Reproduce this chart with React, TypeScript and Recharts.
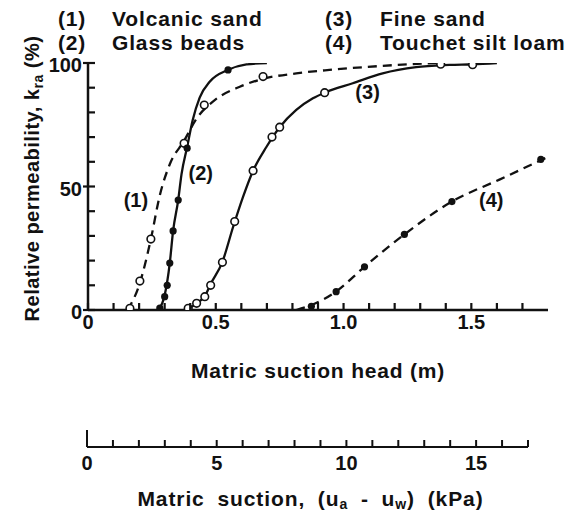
import {
  ComposedChart,
  Line,
  Scatter,
  XAxis,
  YAxis,
  ReferenceDot,
} from "recharts";

const FONT = "'Liberation Sans', Arial, Helvetica, sans-serif";
const INK = "#111";

// legend
const seriesTags = ["(1)", "(2)", "(3)", "(4)"];
const seriesNames = ["Volcanic sand", "Glass beads", "Fine sand", "Touchet silt loam"];

// measured points: [suction head (m), k_ra (%)]
const volcanicPts = [
  [0.164, 0.7], [0.203, 11.7], [0.246, 28.7], [0.376, 67.5], [0.455, 83], [0.685, 94.5], [1.38, 99.5],
];
const glassPts = [
  [0.281, 0.8], [0.3, 5.4], [0.31, 10], [0.32, 19], [0.333, 32], [0.353, 44.5], [0.388, 65.5], [0.548, 97.2],
];
const fineSandPts = [
  [0.392, 0.7], [0.425, 2.7], [0.457, 5.4], [0.48, 10], [0.526, 19.3], [0.574, 35.8], [0.646, 56.4],
  [0.72, 70], [0.75, 74], [0.926, 88], [1.505, 99.3],
];
const touchetPts = [
  [0.874, 1.5], [0.971, 7.4], [1.082, 17.5], [1.238, 30.6], [1.424, 43.9], [1.772, 61],
];

// fitted curves
const volcanicCurve = [
  [0.155, 0], [0.2, 10], [0.246, 28.7], [0.28, 46], [0.32, 59], [0.376, 68.5], [0.425, 77.5],
  [0.49, 84.5], [0.594, 90.4], [0.685, 93.6], [0.815, 95.8], [0.945, 97.2], [1.09, 98.4], [1.26, 99.5], [1.38, 100],
];
const glassCurve = [
  [0.275, 0], [0.3, 6], [0.32, 19], [0.333, 32], [0.353, 44.5], [0.366, 55], [0.388, 66], [0.41, 77],
  [0.437, 86], [0.477, 92.5], [0.548, 97.2], [0.62, 99.4], [0.7, 100],
];
const fineSandCurve = [
  [0.385, 0], [0.425, 2.7], [0.457, 5.6], [0.48, 10.5], [0.526, 19.5], [0.568, 33.7], [0.607, 45.9],
  [0.646, 56.4], [0.698, 66], [0.75, 74], [0.815, 81], [0.88, 85.7], [0.926, 88], [1.036, 91.8],
  [1.153, 95.8], [1.284, 98.3], [1.414, 99.2], [1.505, 99.5], [1.6, 100],
];
const touchetCurve = [
  [0.815, 0], [0.874, 2], [0.971, 7.5], [1.082, 17.5], [1.238, 30.6], [1.424, 43.9], [1.61, 52.8], [1.8, 62],
];

// where the (n) tags sit next to each curve
const curveTagPos = [
  [0.1875, 44], [0.441, 54.7], [1.094, 87.4], [1.578, 43.7],
];

const headTicks = [0, 0.1, 0.2, 0.3, 0.4, 0.5, 0.6, 0.7, 0.8, 0.9, 1.0, 1.1, 1.2, 1.3, 1.4, 1.5, 1.6, 1.7];
const permTicks = [0, 10, 20, 30, 40, 50, 60, 70, 80, 90, 100];
const kpaTicks = [0, 1, 2, 3, 4, 5, 6, 7, 8, 9, 10, 11, 12, 13, 14, 15, 16, 17];

const toXY = (arr: number[][]) => arr.map(([x, y]) => ({ x, y }));

const OpenDot = (p: any) => (
  <circle cx={p.cx} cy={p.cy} r={3.8} fill="#fff" stroke={INK} strokeWidth={1.6} />
);
const FullDot = (p: any) => <circle cx={p.cx} cy={p.cy} r={3.6} fill={INK} />;

const TICK_IN = 7;

// tick marks point into the plot, as in the printed figure
function HeadTick({ x, y, payload }: any) {
  const v = payload.value;
  const major = Math.abs(v * 2 - Math.round(v * 2)) < 1e-6;
  return (
    <g>
      <line x1={x} y1={y} x2={x} y2={y - TICK_IN} stroke={INK} strokeWidth={2.2} />
      {major && (
        <text x={x} y={y + 14} textAnchor="middle" dominantBaseline="middle" fontFamily={FONT} fontWeight={700} fontSize={20} fill={INK}>
          {v === 0 ? "0" : v.toFixed(1)}
        </text>
      )}
    </g>
  );
}

function PermTick({ x, y, payload }: any) {
  const v = payload.value;
  const major = v % 50 === 0;
  return (
    <g>
      <line x1={major ? x - 5 : x} y1={y} x2={x + TICK_IN} y2={y} stroke={INK} strokeWidth={2.2} />
      {major && (
        <text x={x - 6} y={y + 4} textAnchor="end" dominantBaseline="middle" fontFamily={FONT} fontWeight={700} fontSize={20} fill={INK}>
          {v}
        </text>
      )}
    </g>
  );
}

function KpaTick({ x, y, payload }: any) {
  const v = payload.value;
  return (
    <g>
      <line x1={x} y1={y} x2={x} y2={y - (v === 0 ? 17 : 7)} stroke={INK} strokeWidth={2} />
      {v % 5 === 0 && (
        <text x={x} y={y + 18} textAnchor="middle" dominantBaseline="middle" fontFamily={FONT} fontWeight={700} fontSize={20} fill={INK}>
          {v}
        </text>
      )}
    </g>
  );
}

const headTitle = ({ viewBox }: any) => (
  <text x={viewBox.x + viewBox.width / 2} y={viewBox.y + 62} textAnchor="middle" dominantBaseline="middle" fontFamily={FONT} fontWeight={700} fontSize={21} letterSpacing={0.8} fill={INK}>
    Matric suction head (m)
  </text>
);

const permTitle = ({ viewBox }: any) => {
  const cx = viewBox.x + 6;
  const cy = viewBox.y + viewBox.height / 2 - 8;
  return (
    <text x={cx} y={cy} transform={`rotate(-90, ${cx}, ${cy})`} textAnchor="middle" dominantBaseline="middle" fontFamily={FONT} fontWeight={700} fontSize={20} letterSpacing={0.5} fill={INK}>
      Relative permeability,  k<tspan dy={5} fontSize={14}>ra</tspan><tspan dy={-5}> (%)</tspan>
    </text>
  );
};

const kpaTitle = ({ viewBox }: any) => (
  <text x={viewBox.x + viewBox.width / 2 + 3} y={viewBox.y + 53} textAnchor="middle" dominantBaseline="middle" fontFamily={FONT} fontWeight={700} fontSize={21} letterSpacing={0.9} wordSpacing={6} fill={INK}>
    Matric suction, (u<tspan dy={5} fontSize={14}>a</tspan><tspan dy={-5}> - u</tspan><tspan dy={5} fontSize={14}>w</tspan><tspan dy={-5}>) (kPa)</tspan>
  </text>
);

const tagLabel = (text: string) => ({ viewBox }: any) => (
  <text x={viewBox.x} y={viewBox.y} textAnchor="middle" dominantBaseline="middle" fontFamily={FONT} fontWeight={700} fontSize={20} fill={INK}>
    {text}
  </text>
);

const curves = [
  { curve: volcanicCurve, pts: volcanicPts, dashed: true, open: true },
  { curve: glassCurve, pts: glassPts, dashed: false, open: false },
  { curve: fineSandCurve, pts: fineSandPts, dashed: false, open: true },
  { curve: touchetCurve, pts: touchetPts, dashed: true, open: false },
];

const legendText = { position: "absolute" as const, fontFamily: FONT, fontWeight: 700, fontSize: 21, lineHeight: "24px", letterSpacing: 0.85, color: INK, whiteSpace: "nowrap" as const };

export default function App() {
  return (
    <div style={{ position: "absolute", left: 0, top: 0, width: 566, height: 522, background: "#fff" }}>
      {seriesTags.map((tag, i) => {
        const col = i < 2 ? 0 : 1;
        const row = i % 2;
        const top = 7 + row * 24;
        return (
          <div key={tag}>
            <div style={{ ...legendText, top, left: col ? 325 : 58 }}>{tag}</div>
            <div style={{ ...legendText, top, left: col ? 380 : 112 }}>{seriesNames[i]}</div>
          </div>
        );
      })}

      <div style={{ position: "absolute", left: 0, top: 0 }}>
        <ComposedChart width={566} height={400} margin={{ top: 63, right: 18, bottom: 10, left: 28 }}>
          <XAxis
            dataKey="x"
            type="number"
            domain={[0, 1.8]}
            ticks={headTicks}
            interval={0}
            height={80}
            tickSize={0}
            tickMargin={0}
            tickLine={false}
            tick={<HeadTick />}
            axisLine={{ stroke: INK, strokeWidth: 2.5 }}
            allowDataOverflow
            label={headTitle}
          />
          <XAxis xAxisId="top" orientation="top" type="number" domain={[0, 1.8]} height={0} tick={false} tickLine={false} axisLine={{ stroke: INK, strokeWidth: 2.5 }} />
          <YAxis
            dataKey="y"
            type="number"
            domain={[0, 100]}
            ticks={permTicks}
            interval={0}
            width={60}
            tickSize={0}
            tickMargin={0}
            tickLine={false}
            tick={<PermTick />}
            axisLine={{ stroke: INK, strokeWidth: 2.5 }}
            allowDataOverflow
            label={permTitle}
          />
          <YAxis yAxisId="right" orientation="right" type="number" domain={[0, 100]} width={0} tick={false} tickLine={false} axisLine={{ stroke: INK, strokeWidth: 2.5 }} />

          {curves.map((c, i) => (
            <Line
              key={`c${i}`}
              data={toXY(c.curve)}
              dataKey="y"
              type="monotone"
              stroke={INK}
              strokeWidth={2.3}
              strokeDasharray={c.dashed ? "9 6" : undefined}
              dot={false}
              activeDot={false}
              isAnimationActive={false}
            />
          ))}
          {curves.map((c, i) => (
            <Scatter
              key={`p${i}`}
              data={toXY(c.pts)}
              dataKey="y"
              shape={c.open ? OpenDot : FullDot}
              isAnimationActive={false}
            />
          ))}
          {curveTagPos.map(([x, y], i) => (
            <ReferenceDot key={`t${i}`} x={x} y={y} r={0} fill="none" stroke="none" label={tagLabel(seriesTags[i])} />
          ))}
        </ComposedChart>
      </div>

      <div style={{ position: "absolute", left: 0, top: 400 }}>
        <ComposedChart width={566} height={122} margin={{ top: 0, right: 38, bottom: 0, left: 87 }} data={kpaTicks.map((v) => ({ kpa: v }))}>
          <XAxis
            dataKey="kpa"
            type="number"
            domain={[0, 17]}
            ticks={kpaTicks}
            interval={0}
            height={75}
            tickSize={0}
            tickMargin={0}
            tickLine={false}
            tick={<KpaTick />}
            axisLine={{ stroke: INK, strokeWidth: 2 }}
            label={kpaTitle}
          />
          <YAxis hide domain={[0, 1]} />
        </ComposedChart>
      </div>
    </div>
  );
}
